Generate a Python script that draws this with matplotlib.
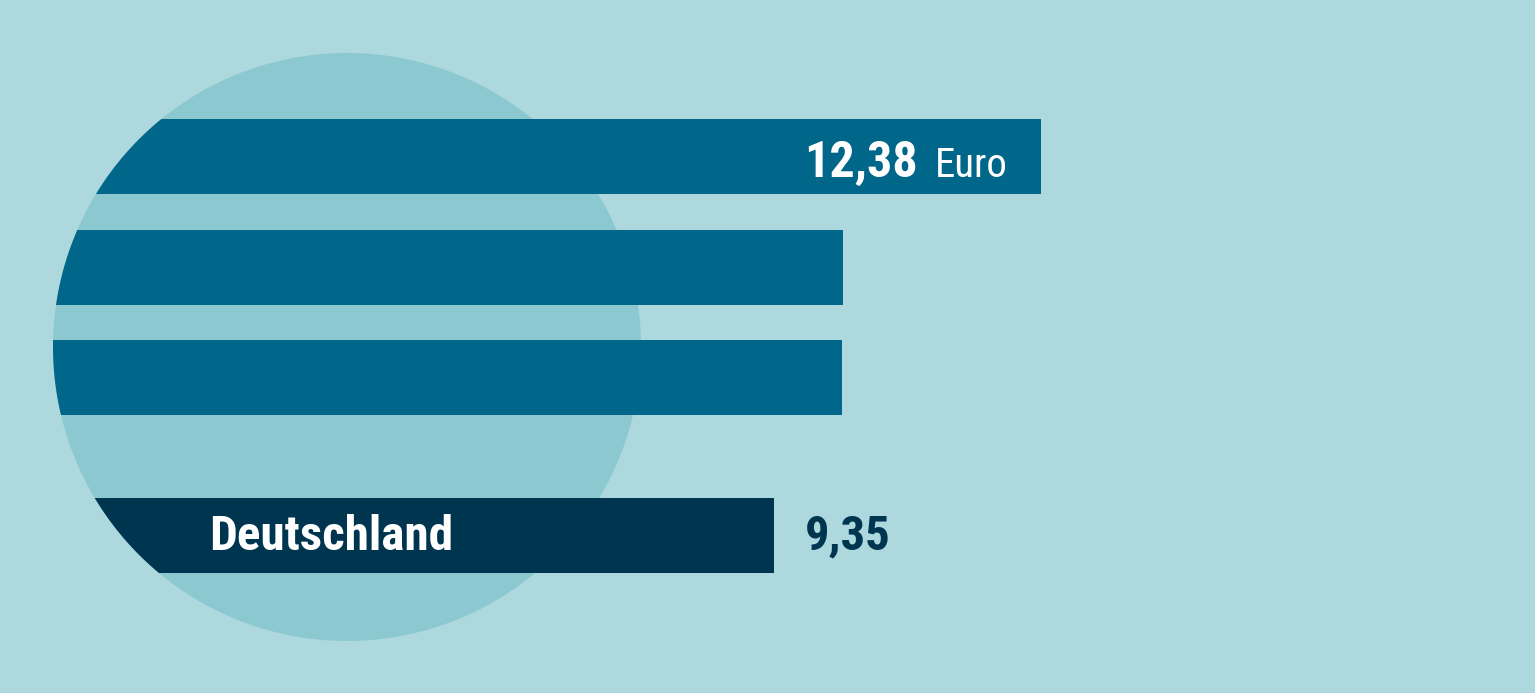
import matplotlib
matplotlib.use("Agg")
import matplotlib.pyplot as plt
from matplotlib.patches import Ellipse, PathPatch
from matplotlib.path import Path
import numpy as np
from matplotlib import font_manager
import logging
logging.getLogger('matplotlib.font_manager').setLevel(logging.ERROR)

# ---- data ----
categories = ["A", "B", "C", "Deutschland"]
values = [12.38, 10.13, 10.12, 9.35]
value_labels = ["12,38", None, None, "9,35"]
unit_label = "Euro"

# ---- style ----
BG = "#acd8de"
CIRCLE = "#8cc8d0"
BAR = "#00668a"
DARK = "#003550"

names = {f.name for f in font_manager.fontManager.ttflist}
cands = ["Roboto Condensed", "Liberation Sans Narrow", "Open Sans Condensed", "Roboto", "DejaVu Sans"]
fam = [c for c in cands if c in names] or ["DejaVu Sans"]
plt.rcParams['font.family'] = [fam[0], 'DejaVu Sans']

W, H = 1535, 693
fig = plt.figure(figsize=(W / 100, H / 100), dpi=100, facecolor=BG)
ax = fig.add_axes([0, 0, 1, 1])
ax.set_facecolor(BG)

k = 88.12      # px per Euro
x0 = -49.9     # pixel position of zero
ax.set_xlim((0 - x0) / k, (W - x0) / k)
ax.set_ylim(H, 0)
ax.axis("off")

# circle
cx_px, cy_px, r_px = 347, 347, 294
cx = (cx_px - x0) / k
circ = Ellipse((cx, cy_px), 2 * r_px / k, 2 * r_px, facecolor=CIRCLE, edgecolor="none", zorder=1)
ax.add_patch(circ)

theta = np.linspace(np.pi / 2, 3 * np.pi / 2, 200)
px = cx + (r_px / k) * np.cos(theta)
py = cy_px - r_px * np.sin(theta)
verts = list(zip(px, py)) + [(100, cy_px + r_px), (100, cy_px - r_px), (px[0], py[0])]
clip = PathPatch(Path(verts, closed=True), transform=ax.transData, facecolor="none", edgecolor="none")
ax.add_patch(clip)

ypos = [156.5, 267.5, 377.5, 535.5]
colors = [BAR, BAR, BAR, DARK]
bars = ax.barh(ypos, values, height=75, left=0, color=colors, zorder=2)
for b in bars:
    b.set_clip_path(clip)

fig.canvas.draw()
renderer = fig.canvas.get_renderer()


def fit_text(xpx, ybase, s, width_px, size, **kw):
    t = ax.text((xpx - x0) / k, ybase, s, fontsize=size, ha="left", va="baseline", zorder=3, **kw)
    w = t.get_window_extent(renderer).width
    t.set_fontsize(size * width_px / w)
    return t

fit_text(804, ypos[0] + 20.5, value_labels[0], 114, 36, color="white", fontweight="bold")
fit_text(935, ypos[0] + 20.5, unit_label, 73, 33, color="white")
fit_text(209, ypos[3] + 14.5, categories[3], 244, 35, color="white", fontweight="bold")
fit_text(805, ypos[3] + 13.5, value_labels[3], 86, 34, color=DARK, fontweight="bold")

fig.savefig("out.png", dpi=100, facecolor=BG)
